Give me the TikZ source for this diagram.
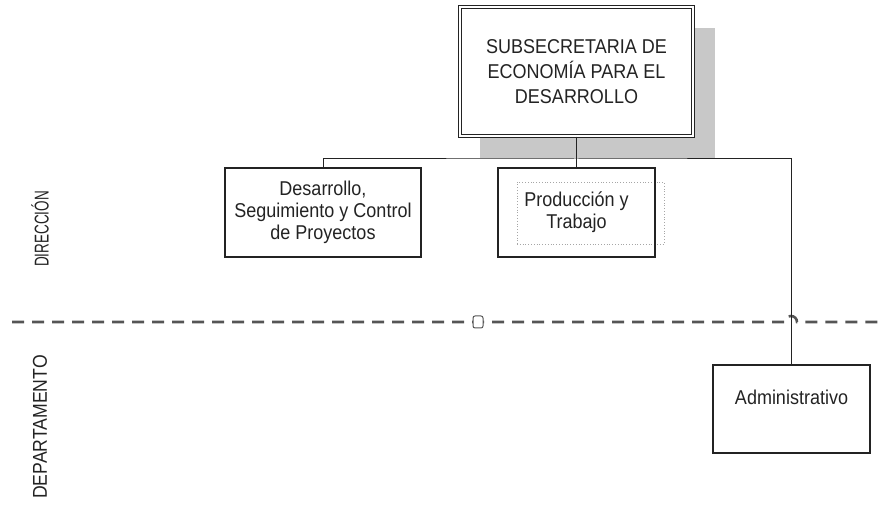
\documentclass[tikz,border=0pt]{standalone}
\usepackage{fontspec}
\setmainfont[FakeStretch=0.9]{Liberation Sans}
\usepackage{tikz}
\usetikzlibrary{positioning}
\definecolor{ink}{RGB}{35,35,35}
\definecolor{shadowgray}{RGB}{200,200,200}
\definecolor{rulegray}{RGB}{85,85,85}
\tikzstyle{unit} = [rectangle, draw=ink, line width=1.2pt, text=ink,
    align=center, font=\fontsize{20}{22}\selectfont, inner sep=0pt]
\tikzstyle{head} = [unit, double, double distance=2.5pt, fill=white,
    font=\fontsize{20}{25}\selectfont]
\tikzstyle{line} = [draw=ink, line width=1pt]
\tikzstyle{divider} = [draw=rulegray, line width=2.6pt, dash pattern=on 12pt off 8pt]
\tikzstyle{level} = [rotate=90, text=ink, font=\fontsize{20}{22}\selectfont]

\begin{document}
\begin{tikzpicture}[x=1pt, y=1pt]
    \useasboundingbox (0,0) rectangle (882,524);
    % Shadow and head
    \fill [shadowgray] (480,366) rectangle (715,496);
    \node [head, minimum width=233pt, minimum height=129pt] (subsec) at (576.5,452.5)
        {SUBSECRETARIA DE\\ECONOMÍA PARA EL\\DESARROLLO};
    % Place nodes
    \node [unit, minimum width=196pt, minimum height=89pt] (desarrollo) at (323,311.5)
        {Desarrollo,\\Seguimiento y Control\\de Proyectos};
    \node [draw=gray!70, dotted, line width=0.8pt, minimum width=147pt, minimum height=62pt] (marco) at (590.5,311) {};
    \node [unit, minimum width=157pt, minimum height=89pt] (produccion) at (576.5,311.5)
        {Producción y\\Trabajo};
    \node [unit, minimum width=157pt, minimum height=88pt] (admin) at (791.5,115) {};
    \node [text=ink, font=\fontsize{20}{22}\selectfont, below=25pt of admin.north, inner sep=0pt] (admintxt) {Administrativo};
    % Levels
    \node [level, xscale=0.75] (direccion) at (40,295) {DIRECCIÓN};
    \node [level, xscale=0.98] (departamento) at (40,97) {DEPARTAMENTO};
    \path [divider] (12,202) -- (785,202) arc[start angle=180, end angle=0, radius=6pt] -- (882,202);
    \node [draw=rulegray, fill=white, line width=1pt, rounded corners=2pt,
        minimum width=10pt, minimum height=12pt, inner sep=0pt] (hop) at (478,202) {};
    % Draw edges
    \coordinate (bus) at (576.5,365);
    \path [line] (subsec) -- (produccion);
    \path [line] (desarrollo.north) |- (bus) -| (admin.north);
\end{tikzpicture}
\end{document}
